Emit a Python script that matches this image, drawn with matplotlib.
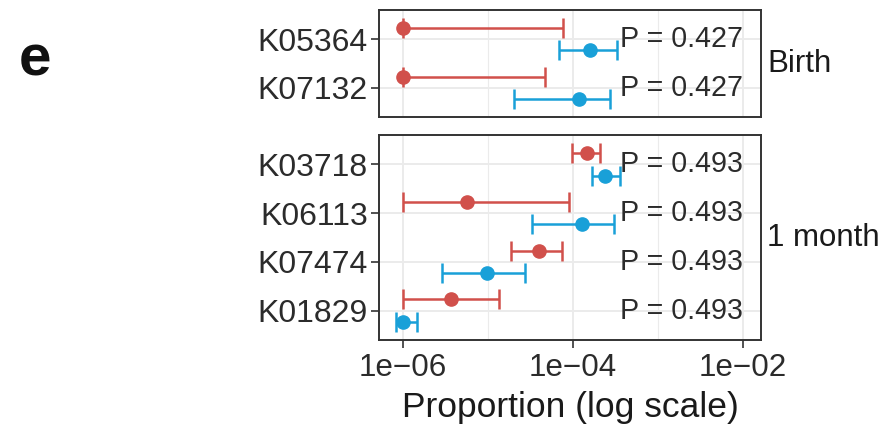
import matplotlib
matplotlib.use("Agg")
import matplotlib.pyplot as plt
import numpy as np

plt.rcParams['font.family'] = ['Liberation Sans', 'DejaVu Sans']

# Data
birth_cats = ["K05364", "K07132"]
birth_red = [1.0e-6, 1.0e-6]
birth_red_lo = [1.0e-6, 1.0e-6]
birth_red_hi = [7.7e-5, 4.7e-5]
birth_blue = [1.58e-4, 1.16e-4]
birth_blue_lo = [6.9e-5, 2.0e-5]
birth_blue_hi = [3.27e-4, 2.72e-4]
birth_p = ["P = 0.427", "P = 0.427"]

month_cats = ["K03718", "K06113", "K07474", "K01829"]
month_red = [1.45e-4, 5.7e-6, 3.98e-5, 3.67e-6]
month_red_lo = [9.8e-5, 1.0e-6, 1.85e-5, 1.0e-6]
month_red_hi = [2.08e-4, 8.97e-5, 7.5e-5, 1.36e-5]
month_blue = [2.38e-4, 1.26e-4, 9.8e-6, 1.0e-6]
month_blue_lo = [1.66e-4, 3.32e-5, 2.9e-6, 8.3e-7]
month_blue_hi = [3.57e-4, 3.03e-4, 2.72e-5, 1.47e-6]
month_p = ["P = 0.493", "P = 0.493", "P = 0.493", "P = 0.493"]

facet_labels = ["Birth", "1 month"]
xticks = [1e-6, 1e-4, 1e-2]
xticklabels = ["1e\u221206", "1e\u221204", "1e\u221202"]

RED = "#D1504B"
BLUE = "#19A0D8"
TXT = "#2b2b2b"
FS_Y = 23
FS_X = 22.6
FS_P = 20.6
FS_STRIP = 22.5
FS_LAB = 25.5

W, H = 887, 429
fig = plt.figure(figsize=(W / 100, H / 100), dpi=100)

def px_axes(x0, y0, x1, y1):
    return fig.add_axes([x0 / W, 1 - y1 / H, (x1 - x0) / W, (y1 - y0) / H])

ax1 = px_axes(379, 10, 761, 117)
ax2 = px_axes(379, 135, 761, 340)

dodge = 0.23

def draw(ax, cats, r, rlo, rhi, b, blo, bhi, ptxt, label, show_x):
    n = len(cats)
    y = np.arange(n)
    ax.set_xscale('log')
    ax.set_xlim(5.2e-7, 1.63e-2)
    ax.set_ylim(n - 0.4, -0.6)
    for yy in y:
        ax.axhline(yy, color="#EBEBEB", lw=1.4, zorder=0)
    for xv in [1e-6, 1e-4, 1e-2]:
        ax.axvline(xv, color="#EBEBEB", lw=1.4, zorder=0)
    for xv in [1e-5, 1e-3]:
        ax.axvline(xv, color="#EBEBEB", lw=0.8, zorder=0)
    r = np.array(r); b = np.array(b)
    ax.errorbar(r, y - dodge, xerr=[r - np.array(rlo), np.array(rhi) - r],
                fmt='o', color=RED, ms=9.5, elinewidth=1.8, capsize=7.5,
                capthick=1.8, zorder=3)
    ax.errorbar(b, y + dodge, xerr=[b - np.array(blo), np.array(bhi) - b],
                fmt='o', color=BLUE, ms=9.5, elinewidth=1.8, capsize=7.5,
                capthick=1.8, zorder=3)
    for yy, t in zip(y, ptxt):
        ax.text(1e-2, yy, t, ha='right', va='center', fontsize=FS_P, color=TXT, zorder=4)
    ax.set_yticks(y)
    ax.set_yticklabels(cats, fontsize=FS_Y, color=TXT)
    ax.minorticks_off()
    ax.set_xticks(xticks)
    if show_x:
        ax.set_xticklabels(xticklabels, fontsize=FS_X, color=TXT)
    else:
        ax.tick_params(axis='x', bottom=False, labelbottom=False)
    ax.tick_params(axis='both', length=6, width=1.2, color="#333333", pad=3)
    ax.tick_params(axis='y', pad=2)
    for s in ax.spines.values():
        s.set_color("#333333")
        s.set_linewidth(1.4)
    ax.text(1.017, 0.5, label, transform=ax.transAxes, ha='left', va='center',
            fontsize=FS_STRIP, color="#1a1a1a")

draw(ax1, birth_cats, birth_red, birth_red_lo, birth_red_hi,
     birth_blue, birth_blue_lo, birth_blue_hi, birth_p, facet_labels[0], False)
draw(ax2, month_cats, month_red, month_red_lo, month_red_hi,
     month_blue, month_blue_lo, month_blue_hi, month_p, facet_labels[1], True)

ax2.set_xlabel("Proportion (log scale)", fontsize=FS_LAB, color="#1a1a1a", labelpad=6)

fig.text(19 / W, 1 - 60 / H, "e", fontsize=42, fontweight='bold', color="#111111",
         ha='left', va='center')

fig.savefig("out.png", dpi=100)
